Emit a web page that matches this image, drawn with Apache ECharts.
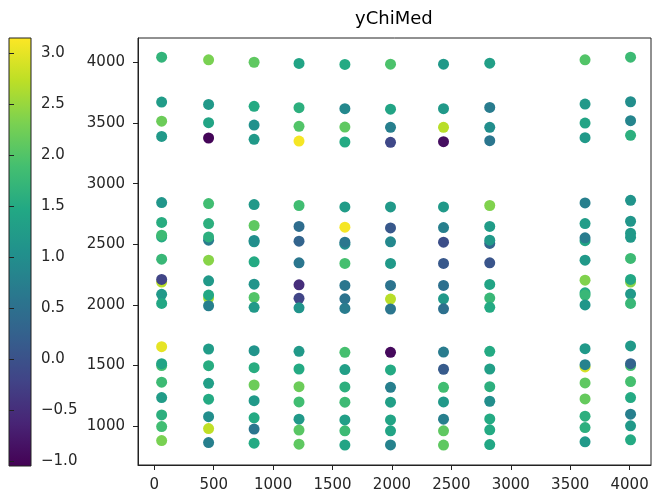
<!DOCTYPE html>
<html>
<head>
<meta charset="utf-8">
<script src="https://cdn.jsdelivr.net/npm/echarts@6/dist/echarts.min.js"></script>
<style>
html,body{margin:0;padding:0;background:#fff;}
#chart{width:652px;height:493px;}
</style>
</head>
<body>
<div id="chart"></div>
<script>
// Column x positions
const xPositions = [62, 457, 840, 1218, 1604, 1988, 2434, 2823, 3625, 4008];
// Per-column points: [y, colour value]
const col1 = [[4044,1.68],[3673,1.25],[3516,2.2],[3390,1.2],
  [2844,1.15],[2680,1.55],[2561,1.5],[2575,1.8],[2377,1.75],[2188,2.7],[2210,-0.2],[2087,1.2],[2012,1.45],
  [1500,1.9],[1655,3.0],[1515,1.4],[1362,1.8],[1235,1.25],[1092,1.6],[996,1.85],[881,2.3]];
const col2 = [[4022,2.3],[3654,1.2],[3503,1.4],[3377,-1.0],
  [2836,1.85],[2671,1.6],[2534,0.7],[2561,1.6],[2369,2.4],[2199,1.2],[2056,2.6],[2081,1.45],[1993,0.75],
  [1636,1.25],[1498,1.55],[1353,1.3],[1222,1.5],[1078,1.0],[980,2.75],[864,0.75]];
const col3 = [[4002,2.1],[3638,1.5],[3484,1.05],[3366,1.2],
  [2828,1.2],[2655,2.1],[2520,1.1],[2532,1.0],[2355,1.5],[2171,1.1],[2062,2.0],[1980,1.2],
  [1622,1.1],[1482,1.55],[1339,2.2],[1210,1.2],[1068,1.5],[975,0.6],[859,1.5]];
const col4 = [[3992,1.4],[3627,1.6],[3473,2.0],[3352,3.1],
  [2820,1.85],[2647,0.45],[2526,0.3],[2347,0.6],[2166,-0.5],[2054,-0.2],[1976,1.1],
  [1617,1.2],[1471,1.5],[1325,2.2],[1199,1.85],[1057,1.2],[967,2.05],[851,2.1]];
const col5 = [[3984,1.5],[3619,0.9],[3467,2.1],[3344,1.5],
  [2808,1.25],[2641,3.1],[2501,1.0],[2517,0.6],[2342,1.9],[2161,0.6],[2050,0.55],[1971,0.7],
  [1609,1.9],[1466,1.3],[1323,1.6],[1197,1.8],[1051,1.3],[961,1.8],[843,1.4]];
const col6 = [[3986,1.95],[3615,1.4],[3465,0.75],[3341,-0.15],
  [2808,1.2],[2635,0.1],[2520,0.9],[2342,1.2],[2161,0.55],[2048,2.7],[1966,0.6],
  [1609,-0.95],[1463,1.5],[1320,0.75],[1197,1.3],[1051,1.4],[961,1.4],[845,0.8]];
const col7 = [[3986,1.2],[3619,1.2],[3465,2.7],[3347,-0.9],
  [2808,1.2],[2638,0.75],[2517,-0.05],[2342,0.1],[2161,0.5],[2050,1.2],[1968,0.5],
  [1611,0.7],[1469,0.15],[1320,1.85],[1199,1.2],[1057,0.75],[961,2.1],[843,2.1]];
const col8 = [[3994,1.3],[3629,0.7],[3465,1.0],[3355,0.6],
  [2820,2.35],[2647,1.25],[2507,0.3],[2534,1.2],[2347,0.05],[2169,1.4],[2056,1.75],[1980,1.5],
  [1617,1.5],[1471,1.3],[1325,1.6],[1205,1.0],[1059,1.5],[969,1.5],[848,1.45]];
const col9 = [[4022,2.0],[3657,1.2],[3500,1.4],[3380,1.2],
  [2841,0.75],[2671,1.25],[2530,1.4],[2553,0.7],[2369,1.2],[2204,2.35],[2100,1.5],[2081,1.75],[2000,1.15],
  [1639,1.2],[1488,2.9],[1507,0.8],[1356,2.1],[1224,2.15],[1082,1.6],[988,1.6],[870,1.2]];
const col10 = [[4044,1.8],[3676,1.0],[3520,0.85],[3399,1.6],
  [2863,1.1],[2690,1.15],[2558,1.2],[2591,1.2],[2383,1.8],[2188,2.4],[2210,1.45],[2089,1.2],[2012,1.75],
  [1661,1.2],[1500,1.9],[1515,0.3],[1367,1.9],[1235,1.5],[1098,0.75],[1002,1.2],[887,1.5]];
const xTicks = [0, 500, 1000, 1500, 2000, 2500, 3000, 3500, 4000];
const yTicks = [1000, 1500, 2000, 2500, 3000, 3500, 4000];
const cTicks = [-1.0, -0.5, 0.0, 0.5, 1.0, 1.5, 2.0, 2.5, 3.0];
const cMin = -1.05, cMax = 3.15;

const viridis = ['#440154','#482475','#414487','#355f8d','#2a788e','#21918c','#22a884','#44bf70','#7ad151','#bddf26','#fde725'];

const columns = [col1,col2,col3,col4,col5,col6,col7,col8,col9,col10];
const points = [];
columns.forEach((col, i) => col.forEach(p => points.push([xPositions[i], p[0], p[1]])));

const FONT = 'DejaVu Sans';
const TXT = '#262626';
const chart = echarts.init(document.getElementById('chart'), null, {renderer: 'canvas'});
chart.setOption({
  animation: false,
  backgroundColor: '#fff',
  title: {
    text: 'yChiMed', left: 355, top: 10, padding: 0,
    textStyle: {fontFamily: FONT, fontSize: 18, fontWeight: 'normal', color: '#000'}
  },
  grid: [
    {left: 138, right: 1, top: 38, bottom: 28, show: true, borderColor: '#222', borderWidth: 1, containLabel: false},
    {left: 9, width: 22, top: 38, height: 428, show: true, borderColor: '#222', borderWidth: 1,
     backgroundColor: new echarts.graphic.LinearGradient(0, 0, 0, 1,
       viridis.slice().reverse().map((c, i) => ({offset: i / 10, color: c})))}
  ],
  xAxis: [
    {type: 'value', gridIndex: 0, min: -137, max: 4180,
     axisLine: {show: true, onZero: false, lineStyle: {color: '#222', width: 1}},
     axisTick: {show: true, length: 5, lineStyle: {color: '#222'}, customValues: xTicks},
     axisLabel: {customValues: xTicks, margin: 13, fontFamily: FONT, fontSize: 15, color: TXT,
       formatter: v => String(v)},
     splitLine: {show: false}},
    {type: 'value', gridIndex: 1, min: 0, max: 1, show: false}
  ],
  yAxis: [
    {type: 'value', gridIndex: 0, min: 679, max: 4202,
     axisLine: {show: true, onZero: false, lineStyle: {color: '#222', width: 1}},
     axisTick: {show: true, length: 5, lineStyle: {color: '#222'}, customValues: yTicks},
     axisLabel: {customValues: yTicks, margin: 13, fontFamily: FONT, fontSize: 15, color: TXT,
       formatter: v => String(v)},
     splitLine: {show: false}},
    {type: 'value', gridIndex: 1, min: cMin, max: cMax, position: 'right',
     axisLine: {show: false},
     axisTick: {show: true, length: 5, lineStyle: {color: '#222'}, customValues: cTicks},
     axisLabel: {customValues: cTicks, margin: 10, fontFamily: FONT, fontSize: 15, color: TXT,
       formatter: v => v.toFixed(1).replace('-', '\u2212')},
     splitLine: {show: false}}
  ],
  visualMap: {
    show: false, type: 'continuous', min: cMin, max: cMax, dimension: 2, seriesIndex: 0,
    inRange: {color: viridis}
  },
  series: [{
    type: 'scatter', xAxisIndex: 0, yAxisIndex: 0,
    symbol: 'circle', symbolSize: 11,
    itemStyle: {opacity: 1},
    data: points
  }]
});
</script>
</body>
</html>
